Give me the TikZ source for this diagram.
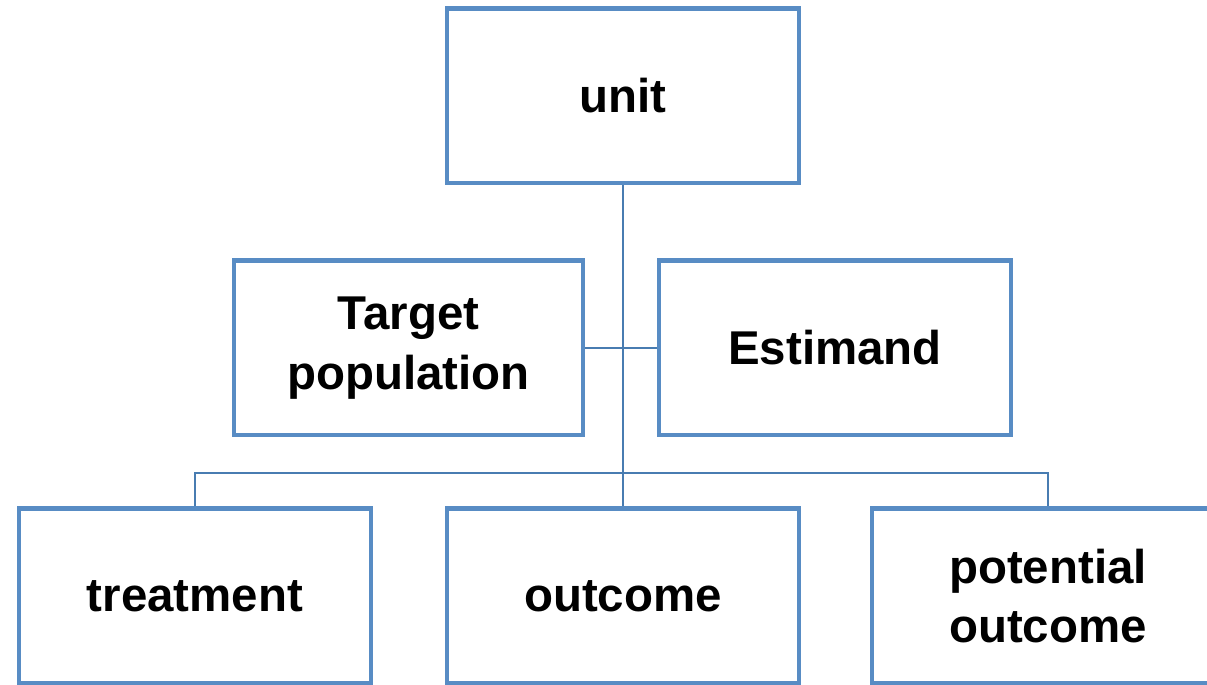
\documentclass[tikz,border=0pt]{standalone}
\usepackage{fontspec}
\setmainfont{Liberation Sans}
\usepackage{tikz}
\definecolor{boxblue}{RGB}{88,140,196}
\definecolor{lineblue}{RGB}{72,124,177}
\tikzstyle{box}=[draw=boxblue, line width=2.3pt, fill=white, minimum width=7.06cm, minimum height=3.5cm, align=center, font=\fontsize{27}{34}\selectfont\bfseries, inner sep=0pt]
\tikzstyle{link}=[draw=lineblue, line width=1.4pt]

\begin{document}
\begin{tikzpicture}[x=0.02cm, y=0.02cm]
\useasboundingbox (0,0) rectangle (1207,685);
\clip (0,0) rectangle (1207,685);
\coordinate (Bus) at (623,212);
\node[box] at (623,589) (Unit) {unit};
\node[box, minimum width=7.0cm] at (408.5,337) (Target) {Target\\population};
\node[box] at (835,337) (Estimand) {Estimand};
\node[box] at (195,89) (Treatment) {treatment};
\node[box] at (623,89) (Outcome) {outcome};
\node[box] at (1048,89) (Potential) {potential\\outcome};
\draw[link] (Unit.south) -- (Outcome.north);
\draw[link] (Target.east) -- (Estimand.west);
\draw[link] (Treatment.north) |- (Bus) -| (Potential.north);
\end{tikzpicture}
\end{document}
